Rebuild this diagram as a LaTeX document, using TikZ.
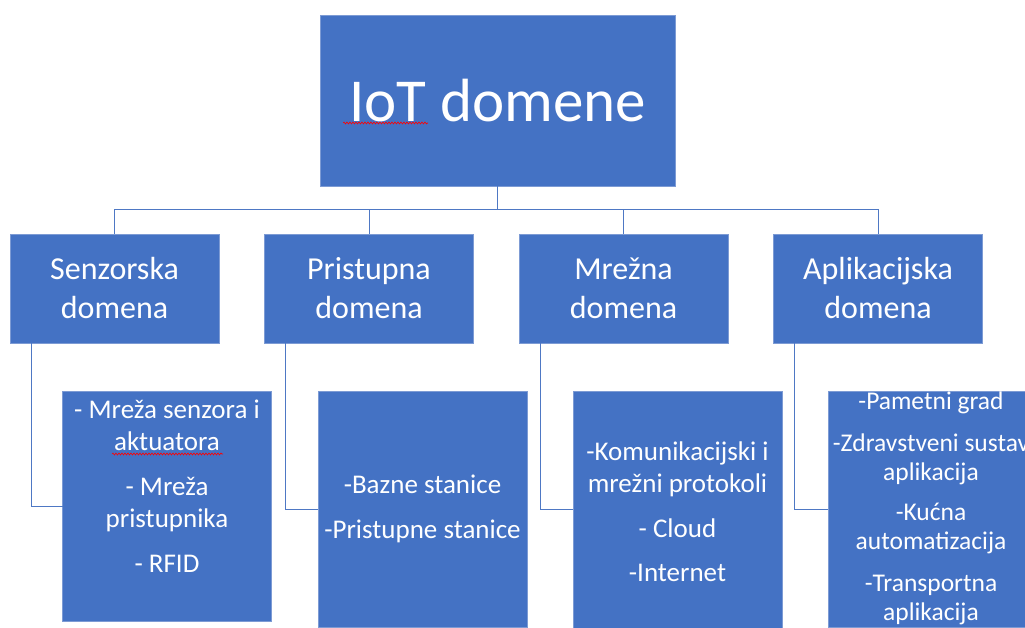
\documentclass[tikz,border=0pt]{standalone}
\usepackage{fontspec}
\setmainfont{Carlito}
\usetikzlibrary{decorations.pathmorphing}
\begin{document}
\begin{tikzpicture}[x=1pt,y=-1pt]
    \definecolor{box_color}{RGB}{68,114,196}
    \definecolor{line_color}{RGB}{78,120,196}
    \definecolor{rim_color}{RGB}{125,155,212}
    \tikzstyle{every node} = [inner sep=0pt, outer sep=0pt]
    \tikzstyle{box} = [draw=rim_color, line width=0.6pt, fill=box_color, text=white, align=center]
    \tikzstyle{rootbox} = [box, minimum width=355pt, minimum height=171pt, font=\fontsize{61}{73}\selectfont]
    \tikzstyle{domainbox} = [box, minimum width=209pt, minimum height=109pt, font=\fontsize{32}{39}\selectfont]
    \tikzstyle{leafbox} = [box, minimum width=209pt]
    \tikzstyle{items} = [text=white, align=center, anchor=base, font=\fontsize{27}{32}\selectfont]
    \tikzstyle{link} = [line_color, line width=1pt]
    \tikzstyle{typo} = [red, line width=0.6pt, decorate, decoration={snake, amplitude=1pt, segment length=3pt}]
    \useasboundingbox (0,0) rectangle (1025,628);
    \node[rootbox] (iot) at (497.5,100.5) {IoT domene};
    \node[domainbox] (sen) at (114.5,288.5) {Senzorska\\domena};
    \node[domainbox] (pri) at (369,288.5) {Pristupna\\domena};
    \node[domainbox] (mre) at (623.5,288.5) {Mrežna\\domena};
    \node[domainbox] (apl) at (878,288.5) {Aplikacijska\\domena};
    \node[leafbox, minimum height=230pt] (sen-l) at (167,506) {};
    \node[leafbox, minimum height=236pt] (pri-l) at (422.5,509) {};
    \node[leafbox, minimum height=237pt] (mre-l) at (677.5,509.5) {};
    \node[leafbox, minimum height=236pt] (apl-l) at (932.5,509) {};
    % last baseline of each list
    \node[items] (sen-t) at (167,572) {- Mreža senzora i\\aktuatora\\[13pt]- Mreža\\pristupnika\\[13pt]- RFID};
    \node[items] (pri-t) at (422.5,538) {-Bazne stanice\\[13pt]-Pristupne stanice};
    \node[items] (mre-t) at (677.5,581) {-Komunikacijski i\\mrežni protokoli\\[13pt]- Cloud\\[12pt]-Internet};
    \node[items, font=\fontsize{25.5}{29}\selectfont] (apl-t) at (931,620) {-Pametni grad\\[13pt]-Zdravstveni sustav\\aplikacija\\[11pt]-Kućna\\automatizacija\\[13pt]-Transportna\\aplikacija};
    \coordinate (bus) at (497.5,210);
    \draw[link] (iot.south) -- (bus);
    \foreach \d in {sen,pri,mre,apl}
        \draw[link] (bus) -| (\d.north);
    \foreach \d in {sen,pri,mre,apl}
        \draw[link] ([xshift=21pt]\d.south west) |- (\d-l.west);
    \draw[typo] (343,123) -- (428,123);
    \draw[typo] (112,454) -- (223,454);
\end{tikzpicture}
\end{document}
